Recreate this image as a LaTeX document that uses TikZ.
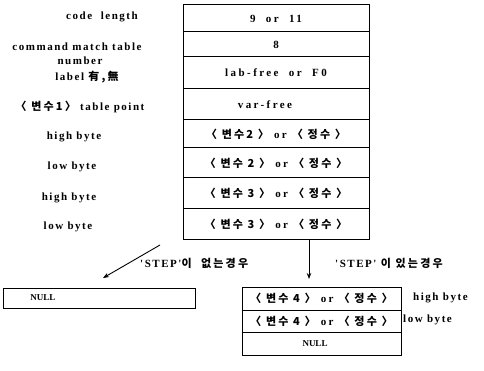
\documentclass[tikz,border=0pt]{standalone}
\usepackage{fontspec}
\usetikzlibrary{arrows.meta}
\setmainfont{Liberation Serif}
\newfontfamily\lab[LetterSpace=14]{Liberation Serif}
\newfontfamily\celf[LetterSpace=22]{Liberation Serif}
\newfontfamily\plainlab{Liberation Serif}
\newfontfamily\kr[LetterSpace=20]{Noto Sans CJK KR}
\newcommand\K[1]{{\kr\fontsize{11}{13}\selectfont #1}}
\begin{document}
\begin{tikzpicture}[x=1pt,y=-1pt,
  txt/.style={font=\lab\bfseries\fontsize{11}{13}\selectfont},
  ctxt/.style={font=\celf\bfseries\fontsize{11}{13}\selectfont},
  cell/.style={draw, line width=1pt, minimum width=186pt, inner sep=0pt, ctxt},
  rcell/.style={draw, line width=1pt, minimum width=159pt, inner sep=0pt, ctxt},
  lbl/.style={inner sep=0pt, txt},
  nul/.style={inner sep=0pt, font=\plainlab\bfseries\fontsize{9}{10}\selectfont},
  arr/.style={line width=0.9pt, -{Stealth[length=6pt,width=4.5pt]}}
]
\path[use as bounding box] (0,0) rectangle (484,371);
% main table
\node[cell, minimum height=27pt] (r1) at (276,18.5) {9 \ or \ 11};
\node[cell, minimum height=25pt] (r2) at (276,44.5) {8};
\node[cell, minimum height=32pt] (r3) at (276,73) {lab-free \ or \ F0};
\node[cell, minimum height=31pt] (r4) at (276,104.5) {\hspace*{-22pt}var-free};
\node[cell, minimum height=28pt] (r5) at (276,134) {\K{〈 변수2 〉} or \K{〈 정수 〉}};
\node[cell, minimum height=30pt] (r6) at (276,163) {\K{〈 변수 2 〉} or \K{〈 정수 〉}};
\node[cell, minimum height=31pt] (r7) at (276,193.5) {\K{〈 변수 3 〉} or \K{〈 정수 〉}};
\node[cell, minimum height=31pt] (r8) at (276,224.5) {\K{〈 변수 3 〉} or \K{〈 정수 〉}};
% left labels
\node[lbl] (l1) at (102,17) {code \ length};
\node[lbl] (l2) at (77,47) {command match table};
\node[lbl] (l3) at (80,61) {number};
\node[lbl] (l4) at (87,77) {label \K{有,無}};
\node[lbl] (l5) at (80,107) {\K{〈 변수1〉} table point};
\node[lbl] (l6) at (74,137) {high byte};
\node[lbl] (l7) at (72,167) {low byte};
\node[lbl] (l8) at (69,198) {high byte};
\node[lbl] (l9) at (68,227) {low byte};
% arrows
\coordinate (a1s) at (160,245);
\coordinate (a1e) at (103,278);
\coordinate (a2s) at (309,240);
\coordinate (a2e) at (309,279);
\draw[arr] (a1s) -- (a1e);
\draw[arr] (a2s) -- (a2e);
\node[lbl, anchor=west] (c1) at (140,263) {'STEP'\K{이 \ 없는경우}};
\node[lbl, anchor=west] (c2) at (335,263) {'STEP' \K{이 있는경우}};
% left NULL box
\node[draw, line width=1pt, minimum width=192pt, minimum height=20pt, inner sep=0pt] (n1) at (99,298) {};
\node[nul] (n1t) at (43,298) {NULL};
% right table
\node[rcell, minimum height=23pt] (s1) at (321.5,298.5) {\K{〈 변수 4 〉} or \K{〈 정수 〉}};
\node[rcell, minimum height=22pt] (s2) at (321.5,321) {\K{〈 변수 4 〉} or \K{〈 정수 〉}};
\node[rcell, minimum height=23pt] (s3) at (321.5,343.5) {};
\node[nul] (s3t) at (315,343.5) {NULL};
\node[lbl, anchor=west] (h1) at (413,298) {high byte};
\node[lbl, anchor=west] (h2) at (403,320) {low byte};
\end{tikzpicture}
\end{document}
